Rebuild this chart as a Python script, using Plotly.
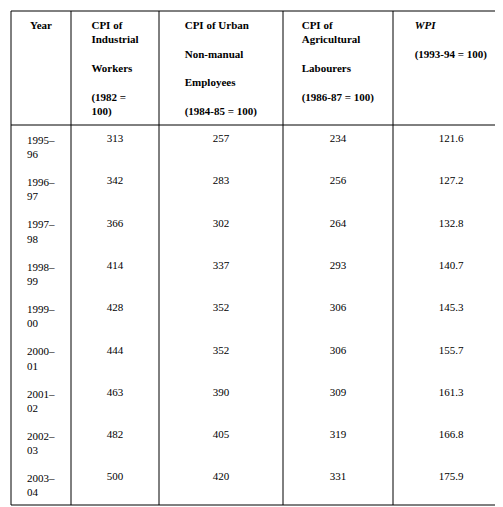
import plotly.graph_objects as go

years = ["1995–<br>96", "1996–<br>97", "1997–<br>98", "1998–<br>99", "1999–<br>00",
         "2000–<br>01", "2001–<br>02", "2002–<br>03", "2003–<br>04"]
cpi_iw = [313, 342, 366, 414, 428, 444, 463, 482, 500]
cpi_unme = [257, 283, 302, 337, 352, 352, 390, 405, 420]
cpi_al = [234, 256, 264, 293, 306, 306, 309, 319, 331]
wpi = [121.6, 127.2, 132.8, 140.7, 145.3, 155.7, 161.3, 166.8, 175.9]

headers = [
    "<b>Year</b>",
    "<b>CPI of<br>Industrial<br><br>Workers<br><br>(1982 =<br>100)</b>",
    "<b>CPI of Urban<br><br>Non-manual<br><br>Employees<br><br>(1984-85 = 100)</b>",
    "<b>CPI of<br>Agricultural<br><br>Labourers<br><br>(1986-87 = 100)</b>",
    "<b><i>WPI</i><br><br>(1993-94 = 100)</b>",
]

W, H = 503, 507
xs = [3, 63, 151, 275, 385, 501]
x0, x1 = xs[0] / W, xs[-1] / W
widths = [xs[i + 1] - xs[i] for i in range(5)]

fig = go.Figure(go.Table(
    domain=dict(x=[x0, x1], y=[1 - 498 / H, 1 - 3 / H]),
    columnwidth=widths,
    header=dict(values=headers, height=114, align=["center"] * 5,
                font=dict(family="Liberation Serif", size=11, color="black"),
                fill_color="white", line_color="white"),
    cells=dict(values=[years, cpi_iw, cpi_unme, cpi_al, wpi], height=38,
               align=["center"] * 5, format=["", "", "", "", ".1f"],
               font=dict(family="Liberation Serif", size=11, color="black"),
               fill_color="white", line_color="white"),
))

def py(p):
    return 1 - p / H

for x in xs:
    fig.add_shape(type="line", xref="paper", yref="paper", x0=x / W, x1=x / W,
                  y0=py(3), y1=py(497), line=dict(color="black", width=1))
for y in [3, 117, 497]:
    fig.add_shape(type="line", xref="paper", yref="paper", x0=x0, x1=x1,
                  y0=py(y), y1=py(y), line=dict(color="black", width=1))

fig.update_layout(width=W, height=H, margin=dict(l=0, r=0, t=0, b=0),
                  paper_bgcolor="white")
fig.write_html("out.html")
